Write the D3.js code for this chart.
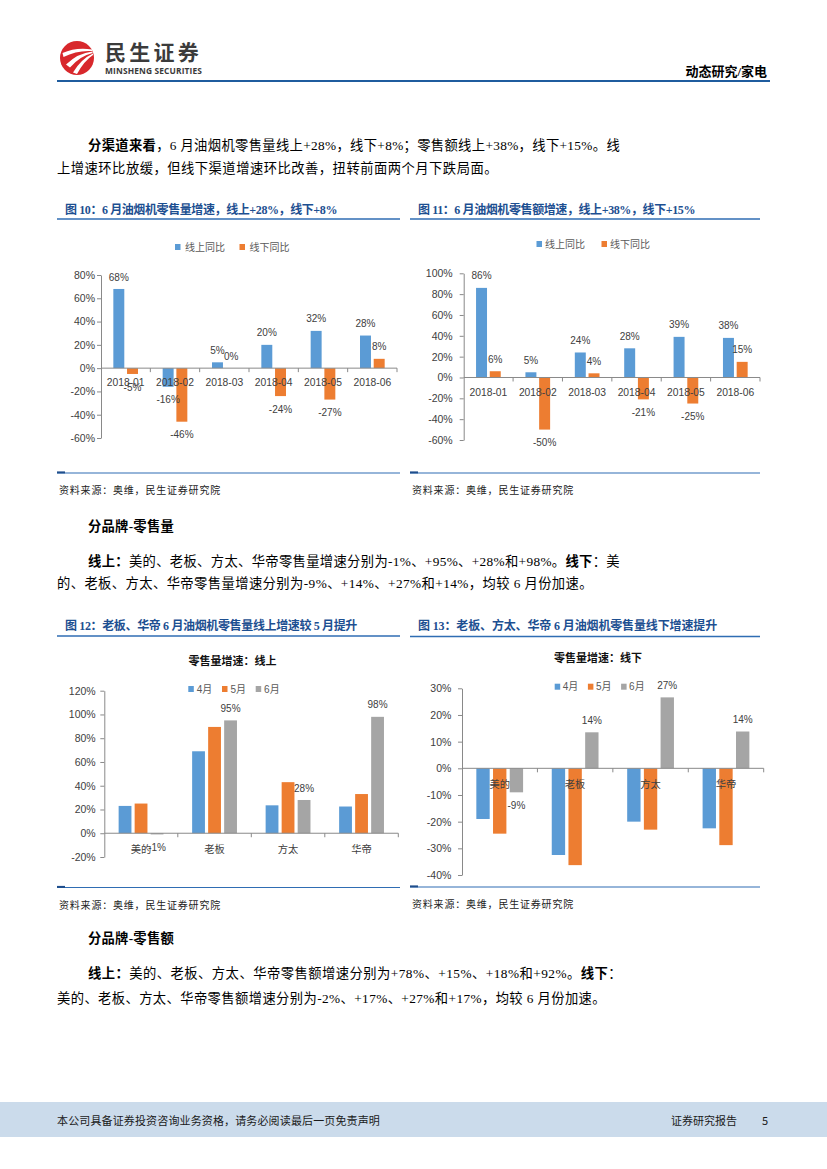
<!DOCTYPE html>
<html>
<head>
<meta charset="utf-8">
<script src="https://cdn.jsdelivr.net/npm/d3@7"></script>
<style>
  body { margin: 0; background: #fff; }
  svg { display: block; }
</style>
</head>
<body>
<script>
// ---- data ----
const months18 = ["2018-01", "2018-02", "2018-03", "2018-04", "2018-05", "2018-06"];
const channelSeries = ["线上同比", "线下同比"];
const volOnline = [68, -16, 5, 20, 32, 28];
const volOffline = [-5, -46, 0, -24, -27, 8];
const amtOnline = [86, 5, 24, 28, 39, 38];
const amtOffline = [6, -50, 4, -21, -25, 15];

const brands = ["美的", "老板", "方太", "华帝"];
const monthSeries = ["4月", "5月", "6月"];
const onApr = [23, 69, 23.5, 22.5];
const onMay = [25, 89.5, 43, 33];
const onJun = [-1, 95, 28, 98];
const offApr = [-19, -32.5, -20, -22.5];
const offMay = [-24.5, -36.3, -23, -28.8];
const offJun = [-9, 13.5, 26.6, 13.8];

const ticks10 = [-60, -40, -20, 0, 20, 40, 60, 80];
const ticks11 = [-60, -40, -20, 0, 20, 40, 60, 80, 100];
const ticks12 = [-20, 0, 20, 40, 60, 80, 100, 120];
const ticks13 = [-40, -30, -20, -10, 0, 10, 20, 30];

const BLUE = "#5b9bd5", ORANGE = "#ed7d31", GREY = "#a5a5a5";
const AXIS = "#898989", TXT = "#404040";
const NAVY = "#1d4f91", RULE = "#2f6db3";
const FONT_BODY = '"Liberation Serif", "Noto Sans CJK SC", serif';
const FONT_CHART = '"Liberation Sans", "Noto Sans CJK SC", sans-serif';
const FONT_SANS = '"Noto Sans CJK SC", sans-serif';

const svg = d3.select("body").append("svg")
  .attr("width", 827)
  .attr("height", 1169);

// stretch a text to a target width with letter spacing
function fit(sel, width) {
  const n = sel.node();
  const w = n.getComputedTextLength();
  const len = n.textContent.length;
  if (width && len > 1) sel.attr("letter-spacing", ((width - w) / len).toFixed(3));
  return sel;
}

// text line made of [string, bold] parts, y is the vertical centre
function line(x, y, parts, opts) {
  const o = Object.assign({ size: 13.3, family: FONT_BODY, fill: "#000", anchor: "start" }, opts);
  const t = svg.append("text")
    .attr("x", x)
    .attr("y", y)
    .attr("dy", "0.36em")
    .attr("font-size", o.size)
    .attr("font-family", o.family)
    .attr("fill", o.fill)
    .attr("text-anchor", o.anchor);
  parts.forEach(p => {
    t.append("tspan").attr("font-weight", p[1] ? "bold" : "normal").text(p[0]);
  });
  return fit(t, o.width);
}

// ---- header ----
svg.append("circle").attr("cx", 77).attr("cy", 58).attr("r", 17).attr("fill", "#d8282c");
// white swooshes of the logo, fanning out from the right
[
  "M62.5,53 Q76,47 92,49.5 L92,51 Q77,50 63.5,57 Z",
  "M66,64.5 Q78,53 92.5,51.5 L92.5,53 Q80,56 70,67.5 Z",
  "M73,72.5 Q81,59 93,53.5 L93,55 Q84,61 77,74 Z"
].forEach(d => {
  svg.append("path").attr("d", d).attr("fill", "#fff");
});
fit(svg.append("text").attr("x", 105).attr("y", 60).text("民生证券")
  .attr("font-size", 21).attr("font-weight", "bold").attr("font-family", FONT_SANS)
  .attr("fill", "#3b3b3b"), 97);
fit(svg.append("text").attr("x", 105).attr("y", 74).text("MINSHENG SECURITIES")
  .attr("font-size", 8.4).attr("font-weight", "bold").attr("font-family", '"Open Sans", sans-serif')
  .attr("fill", "#3b3b3b"), 97);
line(767, 71, [["动态研究/家电", true]], { size: 13, anchor: "end" });
svg.append("line").attr("x1", 57).attr("x2", 770).attr("y1", 81).attr("y2", 81)
  .attr("stroke", "#1f5c9e").attr("stroke-width", 2.2);

// ---- body text ----
line(88, 145, [["分渠道来看", true], ["，6 月油烟机零售量线上+28%，线下+8%；零售额线上+38%，线下+15%。线", false]], { width: 532 });
line(57, 168, [["上增速环比放缓，但线下渠道增速环比改善，扭转前面两个月下跌局面。", false]], { width: 441 });

line(88, 526, [["分品牌-零售量", true]], { width: 86 });
line(88, 561, [["线上：", true], ["美的、老板、方太、华帝零售量增速分别为-1%、+95%、+28%和+98%。", false], ["线下", true], ["：美", false]], { width: 532 });
line(57, 583, [["的、老板、方太、华帝零售量增速分别为-9%、+14%、+27%和+14%，均较 6 月份加速。", false]], { width: 536 });

line(88, 938, [["分品牌-零售额", true]], { width: 86 });
line(88, 973, [["线上：", true], ["美的、老板、方太、华帝零售额增速分别为+78%、+15%、+18%和+92%。", false], ["线下", true], ["：", false]], { width: 534 });
line(57, 998, [["美的、老板、方太、华帝零售额增速分别为-2%、+17%、+27%和+17%，均较 6 月份加速。", false]], { width: 549 });

// ---- footer ----
svg.append("rect").attr("x", 0).attr("y", 1102).attr("width", 827).attr("height", 35).attr("fill", "#cbdbeb");
line(57, 1121, [["本公司具备证券投资咨询业务资格，请务必阅读最后一页免责声明", false]], { size: 11, family: FONT_SANS, fill: "#1a1a1a", width: 323 });
line(671, 1121, [["证券研究报告", false]], { size: 11, family: FONT_SANS, fill: "#1a1a1a", width: 66 });
line(765, 1121, [["5", false]], { size: 11, family: FONT_SANS, fill: "#1a1a1a", anchor: "middle" });

// ---- figure frames: title, rules, source ----
function frame(f) {
  line(f.titleX, f.titleY, [[f.title, true]], { size: 12, fill: NAVY, width: f.titleW });
  svg.append("line").attr("x1", f.x0).attr("x2", f.x1).attr("y1", f.ruleTop).attr("y2", f.ruleTop)
    .attr("stroke", RULE).attr("stroke-width", 1.6);
  svg.append("line").attr("x1", f.x0).attr("x2", f.x1).attr("y1", f.ruleBot).attr("y2", f.ruleBot)
    .attr("stroke", RULE).attr("stroke-width", 1.1);
  svg.append("line").attr("x1", f.x0).attr("x2", f.x0 + 8).attr("y1", f.ruleBot - 0.6).attr("y2", f.ruleBot - 0.6)
    .attr("stroke", "#1f4e8c").attr("stroke-width", 2);
  line(f.x0 + 2, f.ruleBot + 17.5, [["资料来源：奥维，民生证券研究院", false]], { size: 10, fill: "#222", width: 162 });
}

frame({ title: "图 10：6 月油烟机零售量增速，线上+28%，线下+8%", titleX: 65, titleY: 210, titleW: 272, x0: 57, x1: 400, ruleTop: 219, ruleBot: 473 });
frame({ title: "图 11：6 月油烟机零售额增速，线上+38%，线下+15%", titleX: 418, titleY: 210, titleW: 277, x0: 410, x1: 760, ruleTop: 219, ruleBot: 473 });
frame({ title: "图 12：老板、华帝 6 月油烟机零售量线上增速较 5 月提升", titleX: 65, titleY: 626, titleW: 292, x0: 57, x1: 400, ruleTop: 636, ruleBot: 887.5 });
frame({ title: "图 13：老板、方太、华帝 6 月油烟机零售量线下增速提升", titleX: 418, titleY: 626, titleW: 299, x0: 410, x1: 760, ruleTop: 636.5, ruleBot: 887 });

// ---- grouped bar chart ----
function barChart(c) {
  const g = svg.append("g");
  const y = d3.scaleLinear().domain(c.yDomain).range([c.bottom, c.top]);
  const x = d3.scaleBand().domain(c.cats).range([c.left, c.right]);
  const groupW = x.bandwidth() * c.groupFrac;
  const xs = d3.scaleBand().domain(c.series.map(s => s.name)).range([0, groupW]).paddingInner(0.2);
  const zero = y(0);
  const barX = (s, i) => x(c.cats[i]) + (x.bandwidth() - groupW) / 2 + xs(s.name);

  if (c.heading) {
    g.append("text").attr("x", c.heading.x).attr("y", c.heading.y).attr("dy", "0.36em")
      .attr("text-anchor", "middle").attr("font-size", 11).attr("font-weight", "bold")
      .attr("font-family", FONT_SANS).attr("fill", "#111").text(c.heading.text);
  }

  // legend
  const lg = g.append("g").selectAll("g").data(c.series).join("g")
    .attr("transform", (d, i) => `translate(${c.legend.x + i * c.legend.step},${c.legend.y})`);
  lg.append("rect").attr("x", 0).attr("y", -3).attr("width", 5.5).attr("height", 6).attr("fill", d => d.color);
  lg.append("text").attr("x", c.legend.gap).attr("dy", "0.36em").attr("font-size", 10)
    .attr("font-family", FONT_CHART).attr("fill", "#595959").text(d => d.name);

  // y axis
  const yAxisG = g.append("g")
    .attr("transform", `translate(${c.left},0)`)
    .call(d3.axisLeft(y).tickValues(c.yTicks).tickFormat(d => d + "%")
      .tickSize(4).tickSizeOuter(0).tickPadding(c.tickPad));
  yAxisG.select(".domain").attr("stroke", AXIS);
  yAxisG.selectAll(".tick line").attr("stroke", AXIS);
  yAxisG.selectAll(".tick text").attr("fill", TXT).attr("font-size", 10.5).attr("font-family", FONT_CHART);

  // bars
  c.series.forEach(s => {
    g.append("g").selectAll("rect").data(s.values).join("rect")
      .attr("x", (d, i) => barX(s, i))
      .attr("y", d => Math.min(y(d), zero))
      .attr("width", xs.bandwidth())
      .attr("height", d => Math.abs(y(d) - zero))
      .attr("fill", s.color);
  });

  // category axis with boundary ticks
  const xAxisG = g.append("g").attr("transform", `translate(0,${zero})`);
  xAxisG.append("line").attr("x1", c.left).attr("x2", c.right).attr("stroke", AXIS);
  xAxisG.selectAll(".bt").data(c.cats.slice(1).map(d => x(d)).concat([c.right])).join("line")
    .attr("class", "bt").attr("x1", d => d).attr("x2", d => d).attr("y1", 0).attr("y2", 4)
    .attr("stroke", AXIS);
  g.append("g").selectAll("text").data(c.cats).join("text")
    .attr("x", d => x(d) + x.bandwidth() / 2)
    .attr("y", zero + c.catGap)
    .attr("dy", "0.36em")
    .attr("text-anchor", "middle")
    .attr("font-size", 10.3)
    .attr("font-family", FONT_CHART)
    .attr("fill", TXT)
    .text(d => d);

  // data labels
  c.series.filter(s => s.labeled).forEach(s => {
    g.append("g").selectAll("text").data(s.values).join("text")
      .attr("x", (d, i) => barX(s, i) + xs.bandwidth() / 2)
      .attr("y", d => (d >= 0 ? y(d) - 12 : y(d) + 13))
      .attr("dy", "0.36em")
      .attr("text-anchor", "middle")
      .attr("font-size", 10)
      .attr("font-family", FONT_CHART)
      .attr("fill", TXT)
      .text(d => Math.round(d) + "%");
  });
}

barChart({
  cats: months18,
  series: [
    { name: channelSeries[0], values: volOnline, color: BLUE, labeled: true },
    { name: channelSeries[1], values: volOffline, color: ORANGE, labeled: true }
  ],
  yDomain: [-60, 80], yTicks: ticks10,
  left: 101, right: 397, top: 275, bottom: 438,
  groupFrac: 0.5, tickPad: 2, catGap: 14,
  legend: { x: 175, y: 247, step: 64.5, gap: 10 }
});

barChart({
  cats: months18,
  series: [
    { name: channelSeries[0], values: amtOnline, color: BLUE, labeled: true },
    { name: channelSeries[1], values: amtOffline, color: ORANGE, labeled: true }
  ],
  yDomain: [-60, 100], yTicks: ticks11,
  left: 463.7, right: 760, top: 273.3, bottom: 440,
  groupFrac: 0.5, tickPad: 7, catGap: 14.4,
  legend: { x: 536.5, y: 244, step: 65, gap: 8.5 }
});

barChart({
  cats: brands,
  series: [
    { name: monthSeries[0], values: onApr, color: BLUE },
    { name: monthSeries[1], values: onMay, color: ORANGE },
    { name: monthSeries[2], values: onJun, color: GREY, labeled: true }
  ],
  yDomain: [-20, 120], yTicks: ticks12,
  left: 104.3, right: 398.3, top: 690.7, bottom: 857,
  groupFrac: 0.61, tickPad: 4.6, catGap: 16,
  heading: { text: "零售量增速：线上", x: 232.5, y: 661.5 },
  legend: { x: 188.3, y: 689, step: 33.7, gap: 8.4 }
});

barChart({
  cats: brands,
  series: [
    { name: monthSeries[0], values: offApr, color: BLUE },
    { name: monthSeries[1], values: offMay, color: ORANGE },
    { name: monthSeries[2], values: offJun, color: GREY, labeled: true }
  ],
  yDomain: [-40, 30], yTicks: ticks13,
  left: 462, right: 763.7, top: 688.3, bottom: 875,
  groupFrac: 0.62, tickPad: 6.7, catGap: 15.6,
  heading: { text: "零售量增速：线下", x: 598, y: 658.3 },
  legend: { x: 554.7, y: 686.7, step: 33.2, gap: 8 }
});
</script>
</body>
</html>
